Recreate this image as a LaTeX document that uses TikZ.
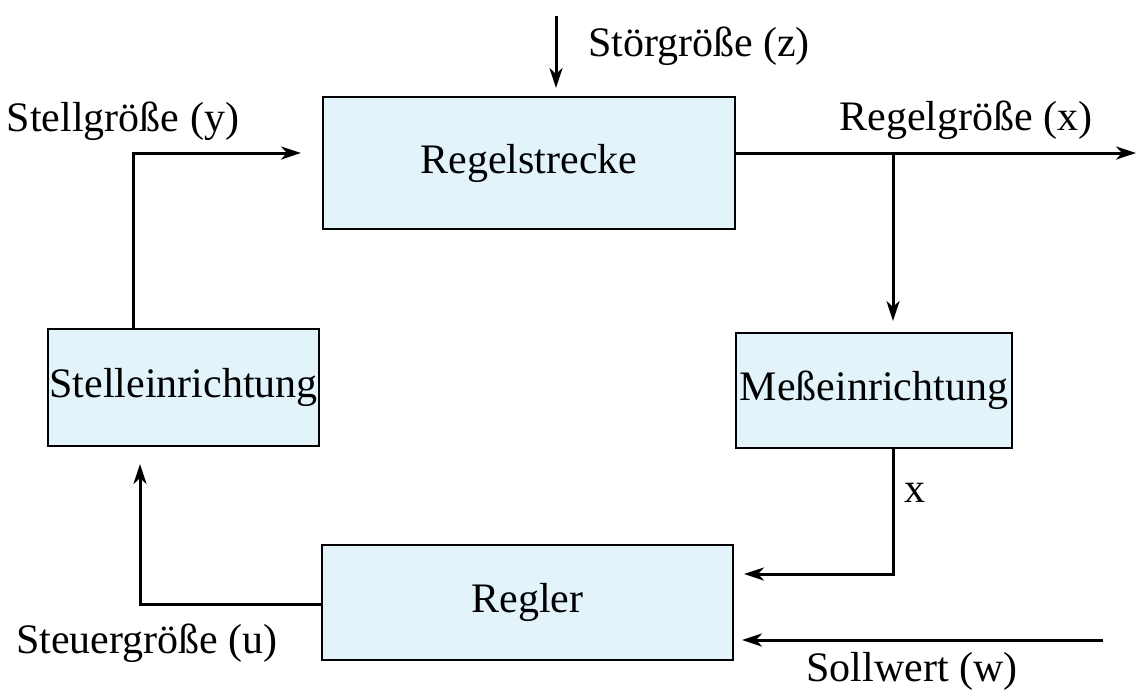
\documentclass[tikz,border=0pt]{standalone}
\usepackage{fontspec}
\setmainfont{Liberation Serif}
\usepackage{xcolor}
\usepackage{tikz}
\usetikzlibrary{arrows.meta,positioning}

\definecolor{boxfill}{RGB}{226,244,250}

\tikzset{
  block/.style={draw, line width=1pt, fill=boxfill, inner sep=0pt,
    font=\fontsize{21}{24}\selectfont},
  lbl/.style={inner sep=0pt, font=\fontsize{21}{24}\selectfont},
  signal/.style={line width=1.5pt, ->},
  >={Stealth[length=10pt,width=6.5pt,inset=3pt]}
}

\begin{document}
\begin{tikzpicture}[x=0.5pt,y=-0.5pt]
\useasboundingbox (0,0) rectangle (1136,697);

\node[block, minimum width=206pt, minimum height=66pt] (strecke) at (529,163) {Regelstrecke};
\node[block, minimum width=135.5pt, minimum height=58.5pt] (stell) at (183.5,387.5) {Stelleinrichtung};
\node[block, minimum width=138pt, minimum height=57.5pt] (mess) at (874,390.5) {Meßeinrichtung};
\node[block, minimum width=205.5pt, minimum height=57.5pt] (regler) at (527.5,602.5) {Regler};

\node[lbl] (stoer) at (699,46) {Störgröße (z)};
\node[lbl] (ylabel) at (123,121) {Stellgröße (y)};
\node[lbl] (xlabel) at (966,120) {Regelgröße (x)};
\node[lbl] (xfb) at (915,493) {x};
\node[lbl] (wlabel) at (912,671) {Sollwert (w)};
\node[lbl] (ulabel) at (147,643) {Steuergröße (u)};

\coordinate (zin) at (556,16);
\coordinate (yknee) at (133,153);
\coordinate (xout) at (1136,153);
\coordinate (xsplit) at (893,153);
\coordinate (xknee) at (893,574);
\coordinate (win) at (1103,640);
\coordinate (uknee) at (140,604);

\draw[signal, shorten >=4pt] (zin) -- (zin |- strecke.north);
\draw[signal, shorten >=10.5pt] (yknee |- stell.north) -- (yknee) -- (yknee -| strecke.west);
\draw[signal] (xout -| strecke.east) -- (xout);
\draw[signal, shorten >=5.5pt] (xsplit) -- (xsplit |- mess.north);
\draw[signal, shorten >=5pt] (xknee |- mess.south) -- (xknee) -- (xknee -| regler.east);
\draw[signal, shorten >=4pt] (win) -- (win -| regler.east);
\draw[signal, shorten >=8.5pt] (uknee -| regler.west) -- (uknee) -- (uknee |- stell.south);
\end{tikzpicture}
\end{document}
